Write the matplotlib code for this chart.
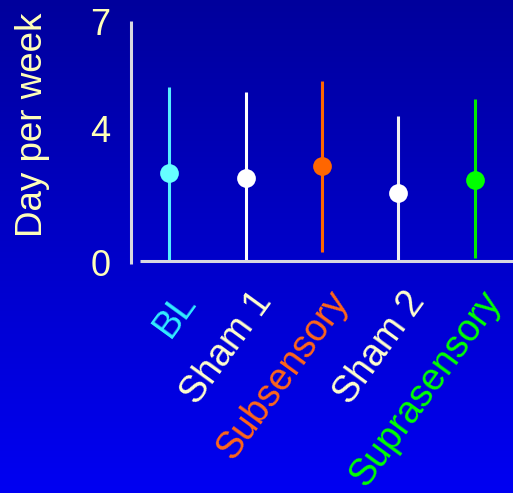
import numpy as np
import matplotlib
matplotlib.use("Agg")
import matplotlib.pyplot as plt
from matplotlib.colors import LinearSegmentedColormap

categories = ["BL", "Sham 1", "Subsensory", "Sham 2", "Suprasensory"]
means = [2.55, 2.42, 2.77, 1.97, 2.35]
upper = [5.06, 4.92, 5.25, 4.21, 4.72]
lower = [0.0, 0.0, 0.24, 0.0, 0.09]
yticks = [0, 4, 7]
ylabel = "Day per week"

marker_colors = ["#66FFFF", "#FFFFFF", "#FF6600", "#FFFFFF", "#00FF00"]
bar_colors = ["#55EEFF", "#FFFFFF", "#FF6600", "#F0F0F0", "#00EE00"]
label_colors = ["#33EEFF", "#FFFFCC", "#FF6619", "#FFFFCC", "#00FF00"]
text_color = "#FFFFB8"
axis_color = "#D8D8E0"

W, H = 513, 493
fig = plt.figure(figsize=(W / 100, H / 100), dpi=100)

# gradient background
bg = fig.add_axes([0, 0, 1, 1], zorder=-10)
cmap = LinearSegmentedColormap.from_list("bg", ["#00009C", "#0000C8", "#0000F2"])
grad = np.linspace(0, 1, 256).reshape(-1, 1)
bg.imshow(grad, aspect="auto", cmap=cmap, extent=[0, 1, 0, 1], origin="upper")
bg.axis("off")

left = 131 / W
bottom = 1 - 260.7 / H
top = 1 - 20.7 / H
ax = fig.add_axes([left, bottom, 1 - left, top - bottom])
ax.patch.set_alpha(0)
x = np.arange(len(categories))
for i in range(len(categories)):
    ax.plot([x[i], x[i]], [lower[i], upper[i]], color=bar_colors[i], lw=2.2,
            solid_capstyle="butt", zorder=2)
    ax.plot(x[i], means[i], "o", color=marker_colors[i], ms=13.5, mec="none", zorder=3)

ax.set_xlim(-0.5, 4.5)
ax.set_ylim(0, 7)
for s in ax.spines.values():
    s.set_visible(False)
ax.set_xticks([])
ax.set_yticks([])

# axis lines
ax.plot([0, 0], [-0.012, 1.0], transform=ax.transAxes, color=axis_color, lw=2.2,
        clip_on=False, solid_capstyle="butt")
ax.plot([9 / (W - 131), 1.0], [0, 0], transform=ax.transAxes, color=axis_color, lw=2.2,
        clip_on=False, solid_capstyle="butt")

# y tick labels
yoff = {0: -4.5, 4: -6.5, 7: -3.6}
for v in yticks:
    ax.annotate(str(v), xy=(0, v), xycoords=("axes fraction", "data"),
                xytext=(-15, yoff[v]), textcoords="offset points",
                ha="right", va="center", fontsize=26, color=text_color,
                family="Liberation Sans")

ax.text((33 - 131) / (W - 131), (260.7 - 125) / 240, ylabel,
        transform=ax.transAxes, rotation=90, ha="center", va="center",
        fontsize=26.5, color=text_color, family="Liberation Sans")

for i, c in enumerate(categories):
    ax.annotate(c, xy=(x[i], 0), xycoords="data", xytext=(14, -25),
                textcoords="offset points", ha="right", va="center",
                rotation=54, rotation_mode="anchor", fontsize=27,
                color=label_colors[i], family="Liberation Sans")

fig.savefig("out.png", dpi=100)
